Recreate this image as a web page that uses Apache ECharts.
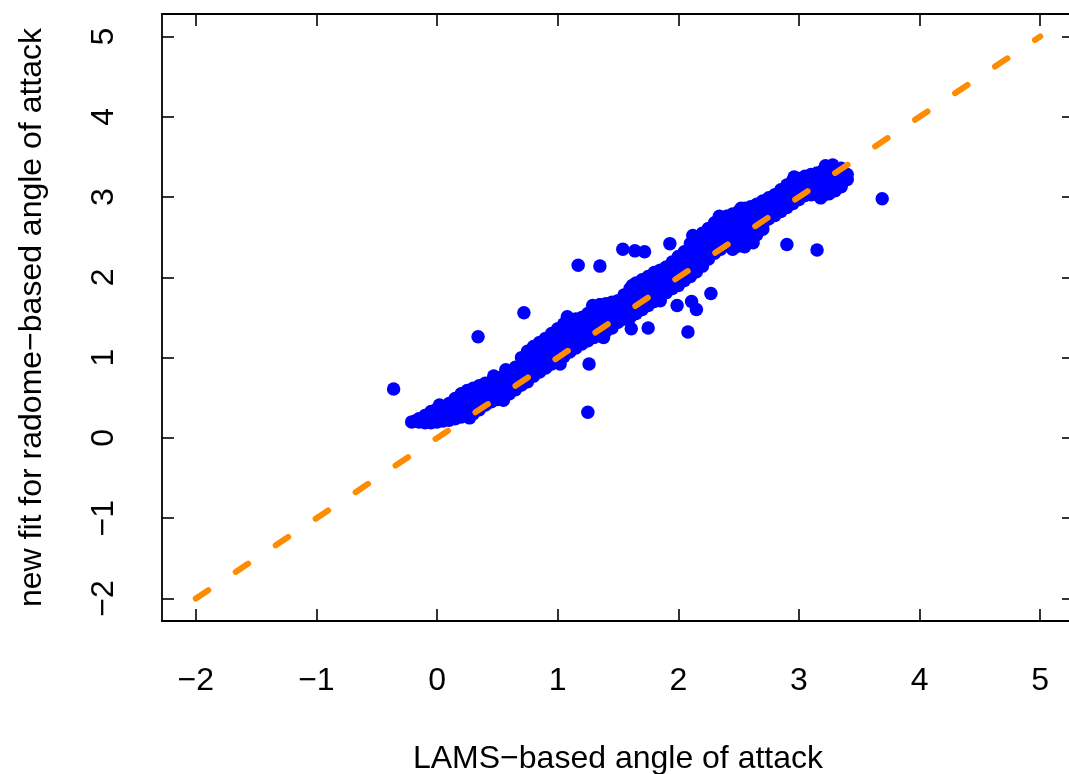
<!DOCTYPE html>
<html>
<head>
<meta charset="utf-8">
<script src="https://cdn.jsdelivr.net/npm/echarts@6/dist/echarts.min.js"></script>
<style>
html,body{margin:0;padding:0;background:#fff;}
#chart{width:1069px;height:774px;}
</style>
</head>
<body>
<div id="chart"></div>
<script>
// ---- data ----
const tickValues = [-2, -1, 0, 1, 2, 3, 4, 5];
const tickLabels = ['\u22122', '\u22121', '0', '1', '2', '3', '4', '5'];
const xTitle = 'LAMS\u2212based angle of attack';
const yTitle = 'new fit for radome\u2212based angle of attack';

// main band of points [LAMS AoA, new fit AoA]
const bandPoints = [
  [-0.21,0.20],[-0.18,0.21],
  [-0.15,0.20],[-0.15,0.24],
  [-0.10,0.19],[-0.10,0.28],
  [-0.05,0.19],[-0.04,0.27],[-0.05,0.33],
  [0.00,0.20],[0.01,0.28],[0.00,0.36],
  [0.05,0.21],[0.06,0.30],[0.05,0.38],
  [0.10,0.22],[0.11,0.32],[0.10,0.43],
  [0.15,0.24],[0.16,0.35],[0.15,0.49],
  [0.20,0.26],[0.21,0.36],[0.19,0.46],[0.20,0.55],
  [0.25,0.28],[0.26,0.38],[0.24,0.49],[0.25,0.59],
  [0.30,0.30],[0.31,0.41],[0.29,0.52],[0.30,0.62],
  [0.35,0.35],[0.36,0.46],[0.34,0.56],[0.35,0.65],
  [0.40,0.41],[0.41,0.50],[0.39,0.59],[0.40,0.68],
  [0.45,0.45],[0.46,0.53],[0.44,0.62],[0.45,0.70],
  [0.50,0.48],[0.51,0.57],[0.49,0.65],[0.50,0.73],
  [0.55,0.51],[0.56,0.60],[0.54,0.69],[0.55,0.77],
  [0.60,0.55],[0.61,0.64],[0.59,0.73],[0.60,0.82],
  [0.65,0.60],[0.66,0.69],[0.64,0.78],[0.65,0.88],
  [0.70,0.66],[0.71,0.75],[0.69,0.85],[0.71,0.93],[0.70,1.00],
  [0.75,0.70],[0.76,0.80],[0.74,0.90],[0.76,0.99],[0.75,1.08],
  [0.80,0.77],[0.81,0.86],[0.79,0.96],[0.81,1.05],[0.80,1.14],
  [0.85,0.82],[0.86,0.91],[0.84,1.01],[0.86,1.10],[0.85,1.19],
  [0.90,0.87],[0.91,0.96],[0.89,1.06],[0.91,1.15],[0.90,1.24],
  [0.95,0.92],[0.96,1.02],[0.94,1.11],[0.96,1.21],[0.95,1.30],
  [1.00,0.96],[1.01,1.06],[0.99,1.16],[1.01,1.26],[1.00,1.36],
  [1.05,1.01],[1.06,1.11],[1.04,1.21],[1.06,1.32],[1.05,1.42],
  [1.10,1.07],[1.11,1.17],[1.09,1.27],[1.11,1.37],[1.10,1.47],
  [1.15,1.12],[1.16,1.21],[1.14,1.30],[1.16,1.39],[1.15,1.48],
  [1.20,1.17],[1.21,1.25],[1.19,1.34],[1.21,1.42],[1.20,1.50],
  [1.25,1.21],[1.26,1.30],[1.24,1.38],[1.26,1.47],[1.25,1.55],
  [1.30,1.25],[1.31,1.34],[1.29,1.43],[1.31,1.51],[1.30,1.60],
  [1.35,1.29],[1.36,1.38],[1.34,1.47],[1.36,1.57],[1.35,1.66],
  [1.40,1.33],[1.41,1.42],[1.39,1.50],[1.41,1.59],[1.40,1.67],
  [1.45,1.37],[1.46,1.45],[1.44,1.53],[1.46,1.61],[1.45,1.69],
  [1.50,1.44],[1.51,1.51],[1.49,1.58],[1.51,1.64],[1.50,1.71],
  [1.55,1.48],[1.56,1.56],[1.54,1.63],[1.56,1.71],[1.55,1.78],
  [1.60,1.50],[1.61,1.59],[1.59,1.68],[1.61,1.77],[1.60,1.86],
  [1.65,1.55],[1.66,1.65],[1.64,1.74],[1.66,1.84],[1.65,1.93],
  [1.70,1.60],[1.71,1.69],[1.69,1.79],[1.71,1.88],[1.70,1.97],
  [1.75,1.65],[1.76,1.74],[1.74,1.83],[1.76,1.92],[1.75,2.01],
  [1.80,1.70],[1.81,1.79],[1.79,1.88],[1.81,1.97],[1.80,2.06],
  [1.85,1.75],[1.86,1.84],[1.84,1.92],[1.86,2.01],[1.85,2.09],
  [1.90,1.81],[1.91,1.89],[1.89,1.97],[1.91,2.05],[1.90,2.13],
  [1.95,1.86],[1.96,1.94],[1.94,2.03],[1.96,2.11],[1.95,2.19],
  [2.00,1.90],[2.01,1.99],[1.99,2.08],[2.01,2.17],[2.00,2.26],
  [2.05,1.96],[2.06,2.05],[2.04,2.14],[2.06,2.23],[2.05,2.32],
  [2.10,2.01],[2.11,2.11],[2.09,2.21],[2.11,2.32],[2.10,2.42],
  [2.15,2.07],[2.16,2.18],[2.14,2.28],[2.16,2.39],[2.15,2.50],
  [2.20,2.14],[2.21,2.24],[2.19,2.35],[2.21,2.45],[2.20,2.55],
  [2.25,2.23],[2.26,2.32],[2.24,2.42],[2.26,2.51],[2.25,2.61],
  [2.30,2.30],[2.31,2.40],[2.29,2.49],[2.31,2.59],[2.30,2.68],
  [2.35,2.35],[2.36,2.44],[2.34,2.54],[2.36,2.63],[2.35,2.72],
  [2.40,2.40],[2.41,2.49],[2.39,2.58],[2.41,2.67],[2.40,2.76],
  [2.45,2.40],[2.46,2.50],[2.44,2.60],[2.46,2.69],[2.45,2.79],
  [2.50,2.39],[2.51,2.50],[2.49,2.61],[2.51,2.71],[2.50,2.82],
  [2.55,2.38],[2.56,2.50],[2.54,2.62],[2.56,2.74],[2.55,2.86],
  [2.60,2.45],[2.61,2.56],[2.59,2.66],[2.61,2.77],[2.60,2.88],
  [2.65,2.53],[2.66,2.63],[2.64,2.72],[2.66,2.82],[2.65,2.91],
  [2.70,2.60],[2.71,2.69],[2.69,2.78],[2.71,2.86],[2.70,2.95],
  [2.75,2.73],[2.76,2.82],[2.74,2.91],[2.75,2.99],
  [2.80,2.77],[2.81,2.86],[2.79,2.95],[2.80,3.03],
  [2.85,2.82],[2.86,2.91],[2.84,3.00],[2.85,3.09],
  [2.90,2.87],[2.91,2.96],[2.89,3.06],[2.90,3.15],
  [2.95,2.92],[2.96,3.02],[2.94,3.11],[2.95,3.21],
  [3.00,2.97],[3.01,3.06],[2.99,3.14],[3.00,3.23],
  [3.05,3.02],[3.06,3.10],[3.04,3.18],[3.05,3.26],
  [3.10,3.03],[3.11,3.11],[3.09,3.20],[3.10,3.28],
  [3.15,3.03],[3.16,3.12],[3.14,3.21],[3.15,3.30],
  [3.20,3.02],[3.21,3.12],[3.19,3.23],[3.20,3.33],
  [3.25,3.04],[3.26,3.14],[3.24,3.25],[3.25,3.35],
  [3.30,3.08],[3.31,3.17],[3.29,3.27],[3.30,3.36],
  [3.35,3.13],[3.36,3.21],[3.34,3.29],[3.35,3.36],
  [3.40,3.22],[3.40,3.28],
  // bumps along the edges of the band
  [1.08,1.51],[1.35,1.66],[2.34,2.76],
  [0.02,0.41],[0.08,0.40],[0.47,0.77],[0.57,0.85],[0.83,1.07],
  [1.29,1.65],[1.62,1.90],[2.12,2.52],[2.52,2.86],[2.96,3.25],
  [3.22,3.39],[3.28,3.40],[0.27,0.25],[0.55,0.47],[1.02,0.92],
  [1.38,1.25],[1.85,1.71],[2.45,2.35],[2.62,2.43],[3.18,2.99]
];

// scattered points away from the band
const outlierPoints = [
  [-0.36,0.61],[0.34,1.26],[0.72,1.56],[1.25,0.32],[1.26,0.92],
  [1.17,2.15],[1.35,2.14],[1.54,2.35],[1.64,2.33],[1.72,2.32],
  [1.93,2.42],[1.61,1.36],[1.75,1.37],[2.08,1.32],[1.99,1.65],
  [2.11,1.70],[2.15,1.60],[2.27,1.80],[2.90,2.41],[3.15,2.34],
  [3.69,2.98]
];

// 1:1 reference line
const identityLine = [[-2,-2],[5,5]];

// ---- chart ----
const FONT = 'Liberation Sans, Arial, Helvetica, sans-serif';
const fmt = v => tickLabels[tickValues.indexOf(Math.round(v))] ?? '';
const AX_MIN = -2.28, AX_MAX = 5.28;
const lineW = 1.8;

function axisBase(show){
  return {
    type: 'value', min: AX_MIN, max: AX_MAX,
    splitLine: {show: false},
    axisLine: {show: true, onZero: false, lineStyle: {color: '#000', width: lineW}},
    axisTick: {show: true, inside: true, length: 12, customValues: tickValues, lineStyle: {color: '#000', width: 1.6}},
    axisLabel: {show: show, customValues: tickValues, formatter: fmt, color: '#000', fontFamily: FONT, fontSize: 32}
  };
}

const xMain = axisBase(true);
xMain.position = 'bottom';
xMain.axisLabel.margin = 44;
xMain.name = xTitle;
xMain.nameLocation = 'middle';
xMain.nameGap = 122;
xMain.nameTextStyle = {color: '#000', fontFamily: FONT, fontSize: 32};

const xTop = axisBase(false);
xTop.position = 'top';

const yMain = axisBase(true);
yMain.position = 'left';
yMain.axisLabel.rotate = 90;
yMain.axisLabel.margin = 42;
yMain.name = yTitle;
yMain.nameLocation = 'middle';
yMain.nameGap = 114;
yMain.nameTextStyle = {color: '#000', fontFamily: FONT, fontSize: 32};

const yRight = axisBase(false);
yRight.position = 'right';

const chart = echarts.init(document.getElementById('chart'), null, {renderer: 'canvas'});
chart.setOption({
  animation: false,
  backgroundColor: '#fff',
  grid: {left: 162, top: 14, width: 912, height: 607, show: false, containLabel: false, outerBoundsMode: 'none'},
  xAxis: [xMain, xTop],
  yAxis: [yMain, yRight],
  series: [
    {
      type: 'scatter', data: bandPoints.concat(outlierPoints),
      symbol: 'circle', symbolSize: 13.5,
      itemStyle: {color: '#0000ff', opacity: 1},
      z: 2, silent: true
    },
    {
      type: 'line', data: identityLine, symbol: 'none',
      lineStyle: {color: '#ff8c00', width: 6, type: [15, 33], cap: 'round'},
      z: 3, silent: true
    }
  ]
});
</script>
</body>
</html>
